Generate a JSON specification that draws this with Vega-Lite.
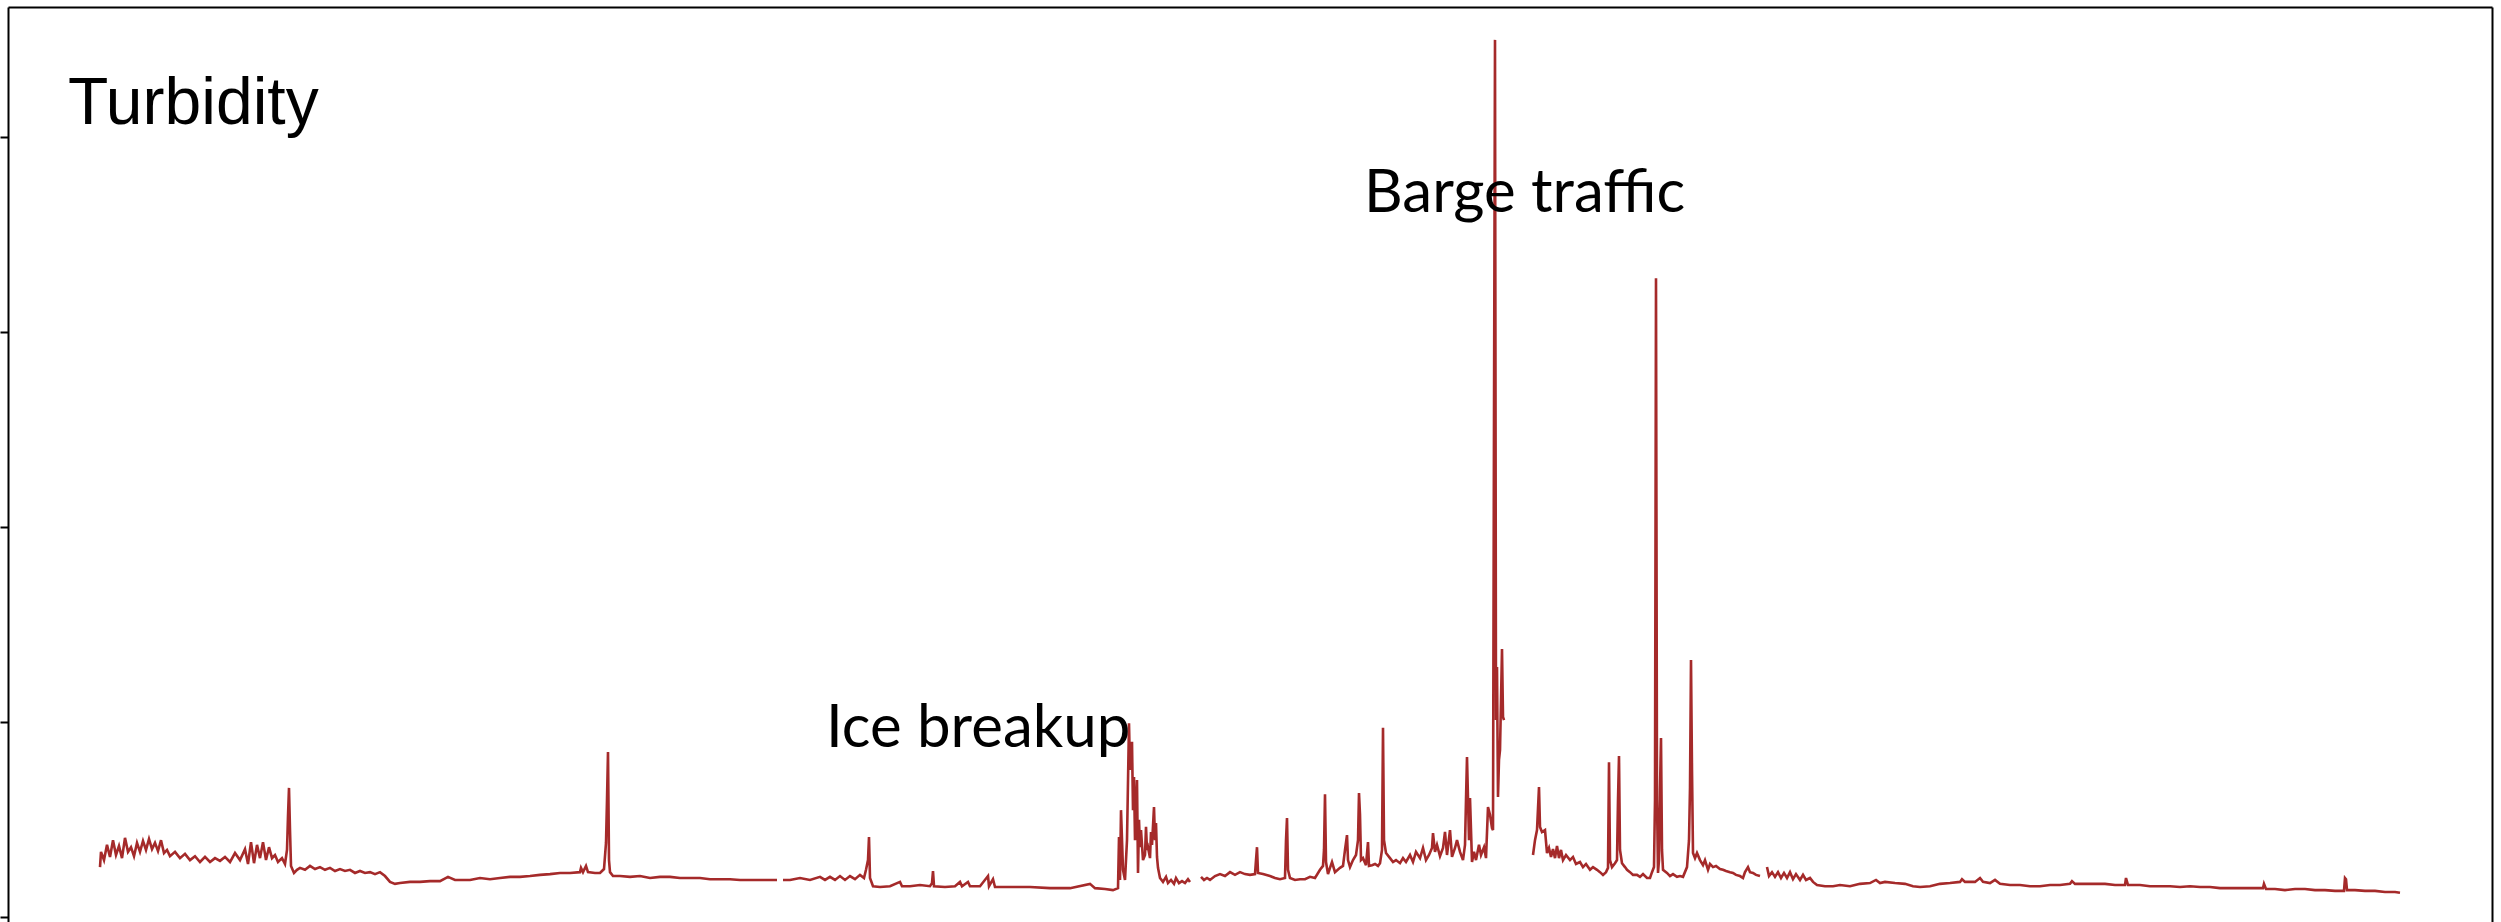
{
"$schema": "https://vega.github.io/schema/vega-lite/v6.json",
"width": 2484, "height": 915,
"padding": {"left": 8, "top": 7, "right": 9, "bottom": 0},
"autosize": {"type": "none"},
"background": "white",
"config": {"view": {"stroke": null}},
"resolve": {"axis": {"y": "independent", "x": "independent"}},
"layer": [
{
"data": {"values": [
{"t":3,"v":12.8,"s":1},{"t":4,"v":16.7,"s":1},{"t":7,"v":14.6,"s":1},{"t":10,"v":18.5,"s":1},{"t":13,"v":15.4,"s":1},{"t":16,"v":19.7,"s":1},{"t":19,"v":15.9,"s":1},{"t":22,"v":18.2,"s":1},{"t":25,"v":15.1,"s":1},{"t":28,"v":20.3,"s":1},{"t":31,"v":16.7,"s":1},{"t":34,"v":17.9,"s":1},{"t":37,"v":15.6,"s":1},{"t":40,"v":19.0,"s":1},{"t":43,"v":16.7,"s":1},{"t":46,"v":19.5,"s":1},{"t":49,"v":17.2,"s":1},{"t":52,"v":20.0,"s":1},{"t":55,"v":17.4,"s":1},{"t":58,"v":19.0,"s":1},{"t":61,"v":16.9,"s":1},{"t":64,"v":19.7,"s":1},{"t":67,"v":16.4,"s":1},{"t":70,"v":17.2,"s":1},{"t":73,"v":15.6,"s":1},{"t":78,"v":16.7,"s":1},{"t":83,"v":15.1,"s":1},{"t":88,"v":16.2,"s":1},{"t":93,"v":14.6,"s":1},{"t":98,"v":15.6,"s":1},{"t":103,"v":14.1,"s":1},{"t":108,"v":15.4,"s":1},{"t":113,"v":14.1,"s":1},{"t":118,"v":15.1,"s":1},{"t":123,"v":14.4,"s":1},{"t":128,"v":15.4,"s":1},{"t":133,"v":14.1,"s":1},{"t":138,"v":16.4,"s":1},{"t":143,"v":14.6,"s":1},{"t":148,"v":17.4,"s":1},{"t":151,"v":13.6,"s":1},{"t":154,"v":19.2,"s":1},{"t":157,"v":13.8,"s":1},{"t":160,"v":18.5,"s":1},{"t":163,"v":15.1,"s":1},{"t":166,"v":19.2,"s":1},{"t":169,"v":14.6,"s":1},{"t":172,"v":17.9,"s":1},{"t":175,"v":15.1,"s":1},{"t":178,"v":15.9,"s":1},{"t":181,"v":14.1,"s":1},{"t":185,"v":15.1,"s":1},{"t":188,"v":13.6,"s":1},{"t":190,"v":17.2,"s":1},{"t":191,"v":25.9,"s":1},{"t":192,"v":33.1,"s":1},{"t":193,"v":22.3,"s":1},{"t":194,"v":13.1,"s":1},{"t":197,"v":11.3,"s":1},{"t":200,"v":12.1,"s":1},{"t":203,"v":12.6,"s":1},{"t":208,"v":12.1,"s":1},{"t":213,"v":13.1,"s":1},{"t":218,"v":12.3,"s":1},{"t":223,"v":12.8,"s":1},{"t":228,"v":12.1,"s":1},{"t":233,"v":12.6,"s":1},{"t":238,"v":11.8,"s":1},{"t":243,"v":12.3,"s":1},{"t":248,"v":11.8,"s":1},{"t":253,"v":12.1,"s":1},{"t":258,"v":11.3,"s":1},{"t":263,"v":11.8,"s":1},{"t":268,"v":11.3,"s":1},{"t":273,"v":11.5,"s":1},{"t":278,"v":11.0,"s":1},{"t":283,"v":11.5,"s":1},{"t":288,"v":10.5,"s":1},{"t":293,"v":9.0,"s":1},{"t":298,"v":8.5,"s":1},{"t":303,"v":8.7,"s":1},{"t":313,"v":9.0,"s":1},{"t":323,"v":9.0,"s":1},{"t":333,"v":9.2,"s":1},{"t":343,"v":9.2,"s":1},{"t":351,"v":10.3,"s":1},{"t":358,"v":9.5,"s":1},{"t":373,"v":9.5,"s":1},{"t":383,"v":10.0,"s":1},{"t":393,"v":9.7,"s":1},{"t":403,"v":10.0,"s":1},{"t":413,"v":10.3,"s":1},{"t":423,"v":10.3,"s":1},{"t":433,"v":10.5,"s":1},{"t":443,"v":10.8,"s":1},{"t":453,"v":11.0,"s":1},{"t":463,"v":11.3,"s":1},{"t":473,"v":11.3,"s":1},{"t":483,"v":11.5,"s":1},{"t":484,"v":12.6,"s":1},{"t":486,"v":11.5,"s":1},{"t":489,"v":13.1,"s":1},{"t":491,"v":11.5,"s":1},{"t":498,"v":11.3,"s":1},{"t":503,"v":11.3,"s":1},{"t":507,"v":12.3,"s":1},{"t":509,"v":19.0,"s":1},{"t":510,"v":30.0,"s":1},{"t":511,"v":42.3,"s":1},{"t":512,"v":14.6,"s":1},{"t":513,"v":11.5,"s":1},{"t":516,"v":10.5,"s":1},{"t":523,"v":10.5,"s":1},{"t":533,"v":10.3,"s":1},{"t":543,"v":10.5,"s":1},{"t":553,"v":10.0,"s":1},{"t":563,"v":10.3,"s":1},{"t":573,"v":10.3,"s":1},{"t":583,"v":10.0,"s":1},{"t":593,"v":10.0,"s":1},{"t":603,"v":10.0,"s":1},{"t":613,"v":9.7,"s":1},{"t":623,"v":9.7,"s":1},{"t":633,"v":9.7,"s":1},{"t":643,"v":9.5,"s":1},{"t":653,"v":9.5,"s":1},{"t":663,"v":9.5,"s":1},{"t":673,"v":9.5,"s":1},{"t":680,"v":9.5,"s":1},
{"t":686,"v":9.5,"s":2},{"t":693,"v":9.5,"s":2},{"t":703,"v":10.0,"s":2},{"t":713,"v":9.5,"s":2},{"t":723,"v":10.3,"s":2},{"t":728,"v":9.5,"s":2},{"t":733,"v":10.3,"s":2},{"t":738,"v":9.5,"s":2},{"t":743,"v":10.5,"s":2},{"t":748,"v":9.5,"s":2},{"t":753,"v":10.5,"s":2},{"t":758,"v":9.7,"s":2},{"t":763,"v":10.8,"s":2},{"t":767,"v":10.0,"s":2},{"t":769,"v":12.1,"s":2},{"t":771,"v":14.6,"s":2},{"t":772,"v":20.5,"s":2},{"t":773,"v":10.0,"s":2},{"t":776,"v":7.9,"s":2},{"t":783,"v":7.7,"s":2},{"t":793,"v":7.9,"s":2},{"t":803,"v":9.0,"s":2},{"t":805,"v":7.9,"s":2},{"t":813,"v":7.9,"s":2},{"t":823,"v":8.2,"s":2},{"t":833,"v":7.9,"s":2},{"t":835,"v":8.7,"s":2},{"t":836,"v":11.8,"s":2},{"t":837,"v":7.9,"s":2},{"t":848,"v":7.7,"s":2},{"t":858,"v":7.9,"s":2},{"t":863,"v":9.0,"s":2},{"t":865,"v":7.9,"s":2},{"t":871,"v":9.0,"s":2},{"t":873,"v":7.9,"s":2},{"t":883,"v":7.9,"s":2},{"t":891,"v":10.5,"s":2},{"t":892,"v":7.9,"s":2},{"t":896,"v":9.7,"s":2},{"t":898,"v":7.7,"s":2},{"t":913,"v":7.7,"s":2},{"t":933,"v":7.7,"s":2},{"t":953,"v":7.4,"s":2},{"t":973,"v":7.4,"s":2},{"t":993,"v":8.5,"s":2},{"t":998,"v":7.4,"s":2},{"t":1008,"v":7.2,"s":2},{"t":1016,"v":6.9,"s":2},{"t":1021,"v":7.4,"s":2},{"t":1022,"v":20.5,"s":2},{"t":1023,"v":9.5,"s":2},{"t":1024,"v":27.4,"s":2},{"t":1026,"v":12.1,"s":2},{"t":1028,"v":9.5,"s":2},{"t":1030,"v":19.7,"s":2},{"t":1032,"v":49.7,"s":2},{"t":1033,"v":37.7,"s":2},{"t":1035,"v":44.9,"s":2},{"t":1036,"v":27.4,"s":2},{"t":1037,"v":35.9,"s":2},{"t":1038,"v":19.7,"s":2},{"t":1040,"v":35.1,"s":2},{"t":1041,"v":11.3,"s":2},{"t":1042,"v":24.9,"s":2},{"t":1043,"v":17.9,"s":2},{"t":1044,"v":22.3,"s":2},{"t":1046,"v":14.6,"s":2},{"t":1048,"v":15.9,"s":2},{"t":1049,"v":23.1,"s":2},{"t":1050,"v":17.2,"s":2},{"t":1051,"v":17.9,"s":2},{"t":1053,"v":15.1,"s":2},{"t":1054,"v":21.8,"s":2},{"t":1055,"v":18.5,"s":2},{"t":1057,"v":28.2,"s":2},{"t":1058,"v":19.7,"s":2},{"t":1059,"v":24.1,"s":2},{"t":1060,"v":15.4,"s":2},{"t":1061,"v":12.6,"s":2},{"t":1063,"v":10.0,"s":2},{"t":1066,"v":9.0,"s":2},{"t":1069,"v":10.3,"s":2},{"t":1071,"v":8.7,"s":2},{"t":1074,"v":9.5,"s":2},{"t":1077,"v":8.5,"s":2},{"t":1079,"v":10.0,"s":2},{"t":1082,"v":8.7,"s":2},{"t":1085,"v":9.2,"s":2},{"t":1088,"v":8.7,"s":2},{"t":1091,"v":9.7,"s":2},{"t":1093,"v":9.0,"s":2},
{"t":1104,"v":10.3,"s":3},{"t":1107,"v":9.5,"s":3},{"t":1110,"v":10.0,"s":3},{"t":1113,"v":9.5,"s":3},{"t":1118,"v":10.5,"s":3},{"t":1123,"v":11.0,"s":3},{"t":1128,"v":10.5,"s":3},{"t":1133,"v":11.5,"s":3},{"t":1138,"v":10.8,"s":3},{"t":1143,"v":11.5,"s":3},{"t":1148,"v":11.0,"s":3},{"t":1153,"v":10.8,"s":3},{"t":1158,"v":11.0,"s":3},{"t":1159,"v":14.6,"s":3},{"t":1160,"v":17.9,"s":3},{"t":1161,"v":11.3,"s":3},{"t":1166,"v":11.0,"s":3},{"t":1173,"v":10.5,"s":3},{"t":1178,"v":10.0,"s":3},{"t":1183,"v":9.7,"s":3},{"t":1188,"v":10.0,"s":3},{"t":1189,"v":19.7,"s":3},{"t":1190,"v":25.4,"s":3},{"t":1191,"v":12.1,"s":3},{"t":1193,"v":10.0,"s":3},{"t":1198,"v":9.5,"s":3},{"t":1203,"v":9.7,"s":3},{"t":1208,"v":9.7,"s":3},{"t":1213,"v":10.3,"s":3},{"t":1218,"v":10.0,"s":3},{"t":1223,"v":12.1,"s":3},{"t":1226,"v":13.1,"s":3},{"t":1227,"v":17.2,"s":3},{"t":1228,"v":31.5,"s":3},{"t":1229,"v":14.1,"s":3},{"t":1231,"v":11.0,"s":3},{"t":1233,"v":12.6,"s":3},{"t":1235,"v":14.1,"s":3},{"t":1238,"v":11.5,"s":3},{"t":1243,"v":12.6,"s":3},{"t":1246,"v":13.1,"s":3},{"t":1248,"v":17.2,"s":3},{"t":1250,"v":21.0,"s":3},{"t":1251,"v":14.6,"s":3},{"t":1253,"v":12.8,"s":3},{"t":1256,"v":14.6,"s":3},{"t":1259,"v":15.9,"s":3},{"t":1261,"v":19.7,"s":3},{"t":1262,"v":31.8,"s":3},{"t":1263,"v":26.2,"s":3},{"t":1264,"v":14.6,"s":3},{"t":1266,"v":15.1,"s":3},{"t":1269,"v":13.3,"s":3},{"t":1271,"v":19.2,"s":3},{"t":1272,"v":13.1,"s":3},{"t":1275,"v":13.3,"s":3},{"t":1278,"v":13.6,"s":3},{"t":1281,"v":13.1,"s":3},{"t":1283,"v":13.8,"s":3},{"t":1285,"v":17.2,"s":3},{"t":1286,"v":48.5,"s":3},{"t":1287,"v":19.7,"s":3},{"t":1289,"v":16.4,"s":3},{"t":1293,"v":15.1,"s":3},{"t":1296,"v":14.1,"s":3},{"t":1299,"v":14.6,"s":3},{"t":1303,"v":13.8,"s":3},{"t":1306,"v":15.1,"s":3},{"t":1309,"v":14.1,"s":3},{"t":1313,"v":15.9,"s":3},{"t":1316,"v":14.1,"s":3},{"t":1319,"v":16.7,"s":3},{"t":1323,"v":15.1,"s":3},{"t":1326,"v":17.7,"s":3},{"t":1329,"v":14.6,"s":3},{"t":1332,"v":15.9,"s":3},{"t":1335,"v":17.7,"s":3},{"t":1336,"v":21.5,"s":3},{"t":1338,"v":16.7,"s":3},{"t":1340,"v":18.5,"s":3},{"t":1343,"v":15.6,"s":3},{"t":1346,"v":17.7,"s":3},{"t":1348,"v":21.8,"s":3},{"t":1350,"v":15.9,"s":3},{"t":1353,"v":22.3,"s":3},{"t":1355,"v":15.4,"s":3},{"t":1358,"v":17.7,"s":3},{"t":1360,"v":19.7,"s":3},{"t":1363,"v":16.7,"s":3},{"t":1366,"v":14.6,"s":3},{"t":1368,"v":18.5,"s":3},{"t":1369,"v":30.0,"s":3},{"t":1370,"v":41.0,"s":3},{"t":1372,"v":19.7,"s":3},{"t":1373,"v":30.5,"s":3},{"t":1375,"v":14.1,"s":3},{"t":1377,"v":16.7,"s":3},{"t":1379,"v":14.6,"s":3},{"t":1382,"v":18.5,"s":3},{"t":1384,"v":15.9,"s":3},{"t":1387,"v":17.9,"s":3},{"t":1389,"v":15.1,"s":3},{"t":1391,"v":28.2,"s":3},{"t":1393,"v":26.2,"s":3},{"t":1395,"v":22.8,"s":3},{"t":1396,"v":22.3,"s":3},{"t":1397,"v":127.9,"s":3},{"t":1398,"v":224.9,"s":3},{"t":1399,"v":50.5,"s":3},{"t":1400,"v":64.1,"s":3},{"t":1401,"v":30.8,"s":3},{"t":1402,"v":40.3,"s":3},{"t":1403,"v":42.8,"s":3},{"t":1404,"v":55.6,"s":3},{"t":1405,"v":68.7,"s":3},{"t":1406,"v":51.3,"s":3},{"t":1407,"v":50.5,"s":3},
{"t":1436,"v":15.9,"s":4},{"t":1438,"v":19.7,"s":4},{"t":1440,"v":22.3,"s":4},{"t":1442,"v":33.3,"s":4},{"t":1443,"v":23.1,"s":4},{"t":1445,"v":21.8,"s":4},{"t":1448,"v":22.3,"s":4},{"t":1450,"v":16.4,"s":4},{"t":1452,"v":17.7,"s":4},{"t":1454,"v":15.4,"s":4},{"t":1456,"v":17.4,"s":4},{"t":1458,"v":15.1,"s":4},{"t":1460,"v":18.2,"s":4},{"t":1462,"v":15.1,"s":4},{"t":1464,"v":17.2,"s":4},{"t":1466,"v":14.6,"s":4},{"t":1469,"v":15.9,"s":4},{"t":1473,"v":14.6,"s":4},{"t":1476,"v":15.4,"s":4},{"t":1479,"v":13.6,"s":4},{"t":1483,"v":14.1,"s":4},{"t":1486,"v":12.8,"s":4},{"t":1489,"v":13.6,"s":4},{"t":1493,"v":12.1,"s":4},{"t":1496,"v":12.8,"s":4},{"t":1500,"v":12.1,"s":4},{"t":1503,"v":11.5,"s":4},{"t":1506,"v":10.8,"s":4},{"t":1509,"v":11.5,"s":4},{"t":1511,"v":12.6,"s":4},{"t":1512,"v":39.7,"s":4},{"t":1513,"v":14.6,"s":4},{"t":1515,"v":12.8,"s":4},{"t":1518,"v":13.8,"s":4},{"t":1520,"v":14.6,"s":4},{"t":1521,"v":30.0,"s":4},{"t":1522,"v":41.3,"s":4},{"t":1523,"v":17.2,"s":4},{"t":1525,"v":13.8,"s":4},{"t":1528,"v":12.8,"s":4},{"t":1530,"v":12.1,"s":4},{"t":1533,"v":11.5,"s":4},{"t":1536,"v":10.8,"s":4},{"t":1540,"v":10.8,"s":4},{"t":1543,"v":10.3,"s":4},{"t":1546,"v":11.0,"s":4},{"t":1550,"v":10.0,"s":4},{"t":1553,"v":10.0,"s":4},{"t":1555,"v":11.5,"s":4},{"t":1557,"v":12.8,"s":4},{"t":1558,"v":30.0,"s":4},{"t":1559,"v":163.8,"s":4},{"t":1560,"v":30.0,"s":4},{"t":1561,"v":11.3,"s":4},{"t":1562,"v":14.6,"s":4},{"t":1563,"v":32.6,"s":4},{"t":1564,"v":45.9,"s":4},{"t":1565,"v":17.2,"s":4},{"t":1566,"v":12.1,"s":4},{"t":1570,"v":11.3,"s":4},{"t":1573,"v":10.5,"s":4},{"t":1576,"v":11.0,"s":4},{"t":1580,"v":10.3,"s":4},{"t":1583,"v":10.5,"s":4},{"t":1586,"v":10.3,"s":4},{"t":1590,"v":12.8,"s":4},{"t":1592,"v":19.7,"s":4},{"t":1593,"v":33.1,"s":4},{"t":1594,"v":65.9,"s":4},{"t":1595,"v":37.7,"s":4},{"t":1596,"v":16.4,"s":4},{"t":1598,"v":15.1,"s":4},{"t":1600,"v":16.4,"s":4},{"t":1603,"v":14.6,"s":4},{"t":1606,"v":13.3,"s":4},{"t":1608,"v":14.6,"s":4},{"t":1611,"v":12.1,"s":4},{"t":1613,"v":13.6,"s":4},{"t":1616,"v":12.8,"s":4},{"t":1619,"v":13.1,"s":4},{"t":1623,"v":12.3,"s":4},{"t":1626,"v":12.1,"s":4},{"t":1629,"v":11.8,"s":4},{"t":1633,"v":11.5,"s":4},{"t":1636,"v":11.3,"s":4},{"t":1639,"v":10.8,"s":4},{"t":1643,"v":10.5,"s":4},{"t":1646,"v":10.0,"s":4},{"t":1648,"v":11.5,"s":4},{"t":1651,"v":12.8,"s":4},{"t":1653,"v":11.5,"s":4},{"t":1656,"v":11.3,"s":4},{"t":1659,"v":10.8,"s":4},{"t":1663,"v":10.5,"s":4},
{"t":1670,"v":12.8,"s":5},{"t":1672,"v":10.5,"s":5},{"t":1675,"v":11.5,"s":5},{"t":1678,"v":10.3,"s":5},{"t":1681,"v":11.5,"s":5},{"t":1684,"v":10.0,"s":5},{"t":1687,"v":11.3,"s":5},{"t":1690,"v":10.0,"s":5},{"t":1693,"v":11.5,"s":5},{"t":1696,"v":9.7,"s":5},{"t":1699,"v":11.0,"s":5},{"t":1703,"v":9.5,"s":5},{"t":1706,"v":10.8,"s":5},{"t":1709,"v":9.5,"s":5},{"t":1713,"v":10.0,"s":5},{"t":1716,"v":9.0,"s":5},{"t":1720,"v":8.2,"s":5},{"t":1728,"v":7.9,"s":5},{"t":1736,"v":7.9,"s":5},{"t":1743,"v":8.2,"s":5},{"t":1753,"v":7.9,"s":5},{"t":1763,"v":8.5,"s":5},{"t":1773,"v":8.7,"s":5},{"t":1779,"v":9.5,"s":5},{"t":1783,"v":8.7,"s":5},{"t":1788,"v":9.0,"s":5},{"t":1798,"v":8.7,"s":5},{"t":1808,"v":8.5,"s":5},{"t":1816,"v":7.9,"s":5},{"t":1823,"v":7.7,"s":5},{"t":1833,"v":7.9,"s":5},{"t":1843,"v":8.5,"s":5},{"t":1853,"v":8.7,"s":5},{"t":1863,"v":9.0,"s":5},{"t":1865,"v":9.7,"s":5},{"t":1868,"v":9.0,"s":5},{"t":1878,"v":9.0,"s":5},{"t":1883,"v":10.0,"s":5},{"t":1886,"v":9.0,"s":5},{"t":1893,"v":8.7,"s":5},{"t":1898,"v":9.5,"s":5},{"t":1903,"v":8.5,"s":5},{"t":1913,"v":8.2,"s":5},{"t":1923,"v":8.2,"s":5},{"t":1933,"v":7.9,"s":5},{"t":1943,"v":7.9,"s":5},{"t":1953,"v":8.2,"s":5},{"t":1963,"v":8.2,"s":5},{"t":1973,"v":8.5,"s":5},{"t":1975,"v":9.2,"s":5},{"t":1978,"v":8.5,"s":5},{"t":1988,"v":8.5,"s":5},{"t":1998,"v":8.5,"s":5},{"t":2008,"v":8.5,"s":5},{"t":2018,"v":8.2,"s":5},{"t":2028,"v":8.2,"s":5},{"t":2029,"v":10.0,"s":5},{"t":2031,"v":8.2,"s":5},{"t":2043,"v":8.2,"s":5},{"t":2053,"v":7.9,"s":5},{"t":2063,"v":7.9,"s":5},{"t":2073,"v":7.9,"s":5},{"t":2083,"v":7.7,"s":5},{"t":2093,"v":7.9,"s":5},{"t":2103,"v":7.7,"s":5},{"t":2113,"v":7.7,"s":5},{"t":2123,"v":7.4,"s":5},{"t":2133,"v":7.4,"s":5},{"t":2143,"v":7.4,"s":5},{"t":2153,"v":7.4,"s":5},{"t":2166,"v":7.4,"s":5},{"t":2167,"v":8.5,"s":5},{"t":2169,"v":7.2,"s":5},{"t":2178,"v":7.2,"s":5},{"t":2188,"v":6.9,"s":5},{"t":2198,"v":7.2,"s":5},{"t":2208,"v":7.2,"s":5},{"t":2218,"v":6.9,"s":5},{"t":2228,"v":6.9,"s":5},{"t":2238,"v":6.7,"s":5},{"t":2247,"v":6.7,"s":5},{"t":2248,"v":10.0,"s":5},{"t":2249,"v":9.7,"s":5},{"t":2250,"v":6.9,"s":5},{"t":2258,"v":6.9,"s":5},{"t":2268,"v":6.7,"s":5},{"t":2278,"v":6.7,"s":5},{"t":2288,"v":6.4,"s":5},{"t":2298,"v":6.4,"s":5},{"t":2303,"v":6.2,"s":5}
]},
"mark": {"type": "line", "color": "#a52a2a", "strokeWidth": 2.6},
"encoding": {
"x": {"field": "t", "type": "quantitative", "scale": {"domain": [-89, 2395], "nice": false, "zero": false},
"axis": {"orient": "top", "labels": false, "ticks": false, "title": null, "grid": false, "domainColor": "black", "domainWidth": 2}},
"y": {"field": "v", "type": "quantitative", "scale": {"domain": [-1.28, 233.33], "nice": false, "zero": false},
"axis": {"orient": "left", "values": [0, 50, 100, 150, 200], "labels": false, "title": null, "grid": false, "tickSize": 8, "tickColor": "black", "tickWidth": 2, "domainColor": "black", "domainWidth": 2}},
"detail": {"field": "s", "type": "nominal"}
}
},
{
"data": {"values": [{"t": -29, "v": 203.3, "label": "Turbidity"}]},
"mark": {"type": "text", "align": "left", "baseline": "alphabetic", "font": "Liberation Sans", "fontSize": 66, "color": "black"},
"encoding": {
"x": {"field": "t", "type": "quantitative", "scale": {"domain": [-89, 2395], "nice": false, "zero": false}, "axis": null},
"y": {"field": "v", "type": "quantitative", "scale": {"domain": [-1.28, 233.33], "nice": false, "zero": false},
"axis": {"orient": "right", "labels": false, "ticks": false, "title": null, "grid": false, "domainColor": "black", "domainWidth": 2}},
"text": {"field": "label"}
}
},
{
"data": {"values": [{"t": 729, "v": 43.6, "label": "Ice breakup"}, {"t": 1267, "v": 180.8, "label": "Barge traffic"}]},
"mark": {"type": "text", "align": "left", "baseline": "alphabetic", "font": "Lato", "fontSize": 60, "color": "black"},
"encoding": {
"x": {"field": "t", "type": "quantitative", "scale": {"domain": [-89, 2395], "nice": false, "zero": false}, "axis": null},
"y": {"field": "v", "type": "quantitative", "scale": {"domain": [-1.28, 233.33], "nice": false, "zero": false}, "axis": null},
"text": {"field": "label"}
}
}
]
}
